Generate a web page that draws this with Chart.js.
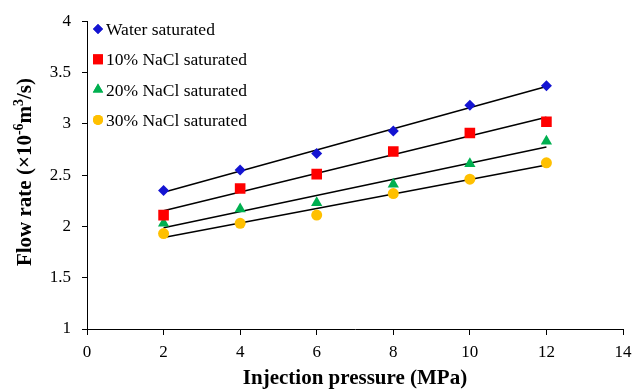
<!DOCTYPE html>
<html><head><meta charset="utf-8">
<script src="https://cdn.jsdelivr.net/npm/chart.js@4.4.0/dist/chart.umd.min.js"></script>
<style>html,body{margin:0;padding:0;background:#fff}#wrap{width:642px;height:391px;position:relative}</style>
</head><body><div id="wrap"><canvas id="c" width="642" height="391"></canvas></div>
<script>
const pressure = [2, 4, 6, 8, 10, 12];
const water  = [2.35, 2.55, 2.71, 2.93, 3.18, 3.37];
const nacl10 = [2.11, 2.37, 2.51, 2.73, 2.91, 3.02];
const nacl20 = [2.03, 2.17, 2.23, 2.41, 2.61, 2.83];
const nacl30 = [1.93, 2.03, 2.11, 2.32, 2.46, 2.62];
const seriesLabels = ['Water saturated', '10% NaCl saturated', '20% NaCl saturated', '30% NaCl saturated'];
const xTickValues = [0, 2, 4, 6, 8, 10, 12, 14];
const yTickValues = [1, 1.5, 2, 2.5, 3, 3.5, 4];
const xTitle = 'Injection pressure (MPa)';

const colors = ['#1414D2', '#FF0000', '#00B050', '#FFC000'];
const styles = ['rectRot', 'rect', 'triangle', 'circle'];
const radii = [5.5, 7.5, 6.5, 5.5];
const legendRadii = [5, 7, 6, 5];
const allSeries = [water, nacl10, nacl20, nacl30];

function fit(xs, ys) {
  const n = xs.length;
  const mx = xs.reduce((a, b) => a + b, 0) / n;
  const my = ys.reduce((a, b) => a + b, 0) / n;
  let sxy = 0, sxx = 0;
  for (let i = 0; i < n; i++) { sxy += (xs[i] - mx) * (ys[i] - my); sxx += (xs[i] - mx) ** 2; }
  const m = sxy / sxx, b = my - m * mx;
  const x0 = xs[0], x1 = xs[n - 1];
  return [{x: x0, y: m * x0 + b}, {x: x1, y: m * x1 + b}];
}

const datasets = [];
allSeries.forEach((s, i) => {
  datasets.push({
    type: 'scatter', label: 'trend' + i, isTrend: true,
    data: fit(pressure, s), showLine: true, borderColor: '#000', borderWidth: 1.5,
    pointRadius: 0, pointHoverRadius: 0, order: 2
  });
});
allSeries.forEach((s, i) => {
  datasets.push({
    type: 'scatter', label: seriesLabels[i],
    data: pressure.map((x, j) => ({x, y: s[j]})),
    pointStyle: styles[i], pointRadius: radii[i], pointHoverRadius: radii[i],
    backgroundColor: colors[i], borderColor: colors[i], borderWidth: 0, order: 1,
    legendRadius: legendRadii[i]
  });
});

const legendPlugin = {
  id: 'customLegend',
  afterDraw(chart) {
    const ctx = chart.ctx;
    ctx.save();
    ctx.font = '17.5px "Liberation Serif", "Times New Roman", serif';
    ctx.textBaseline = 'alphabetic';
    let k = 0;
    chart.data.datasets.forEach(ds => {
      if (ds.isTrend) return;
      const cy = 29 + k * 30.3;
      ctx.fillStyle = ds.backgroundColor;
      ctx.strokeStyle = ds.borderColor;
      Chart.helpers.drawPoint(ctx, {pointStyle: ds.pointStyle, radius: ds.legendRadius, borderWidth: 0, rotation: 0}, 98, cy);
      ctx.fill();
      ctx.fillStyle = '#000';
      ctx.fillText(ds.label, 106, cy + 6);
      k++;
    });
    ctx.restore();
  }
};

const yTitlePlugin = {
  id: 'yTitle',
  afterDraw(chart) {
    const ctx = chart.ctx;
    const big = 'bold 21px "Liberation Serif", "Times New Roman", serif';
    const small = 'bold 14px "Liberation Serif", "Times New Roman", serif';
    const parts = [['Flow rate (×10', big, 0], ['-6', small, -8], ['m', big, 0], ['3', small, -8], ['/s)', big, 0]];
    ctx.save();
    let total = 0;
    parts.forEach(p => { ctx.font = p[1]; total += ctx.measureText(p[0]).width; });
    ctx.translate(31, 172);
    ctx.rotate(-Math.PI / 2);
    ctx.fillStyle = '#000';
    ctx.textBaseline = 'alphabetic';
    let x = -total / 2;
    parts.forEach(p => { ctx.font = p[1]; ctx.fillText(p[0], x, p[2]); x += ctx.measureText(p[0]).width; });
    ctx.restore();
  }
};

new Chart(document.getElementById('c'), {
  type: 'scatter',
  data: {datasets},
  plugins: [legendPlugin, yTitlePlugin],
  options: {
    responsive: false, animation: false,
    layout: {padding: {top: 21, right: 19, left: 0, bottom: 0}},
    plugins: {legend: {display: false}, tooltip: {enabled: false}},
    scales: {
      x: {
        type: 'linear', min: 0, max: 14,
        afterBuildTicks: s => { s.ticks = xTickValues.map(v => ({value: v})); },
        afterFit: s => { s.height = 62; },
        grid: {drawOnChartArea: false, drawTicks: true, tickLength: 6, color: '#000'},
        border: {display: true, color: '#000', width: 1},
        ticks: {color: '#000', padding: 7, font: {family: '"Liberation Serif"', size: 17}, maxRotation: 0, callback: v => String(v)},
        title: {display: true, text: xTitle, color: '#000', font: {family: '"Liberation Serif"', size: 21, weight: 'bold'}, padding: {top: 2, bottom: 0}}
      },
      y: {
        type: 'linear', min: 1, max: 4,
        afterBuildTicks: s => { s.ticks = yTickValues.map(v => ({value: v})); },
        afterFit: s => { s.width = 87; },
        grid: {drawOnChartArea: false, drawTicks: true, tickLength: 5, color: '#000'},
        border: {display: true, color: '#000', width: 1},
        ticks: {color: '#000', padding: 11, font: {family: '"Liberation Serif"', size: 17}, callback: v => String(v)}
      }
    }
  }
});
</script></body></html>
